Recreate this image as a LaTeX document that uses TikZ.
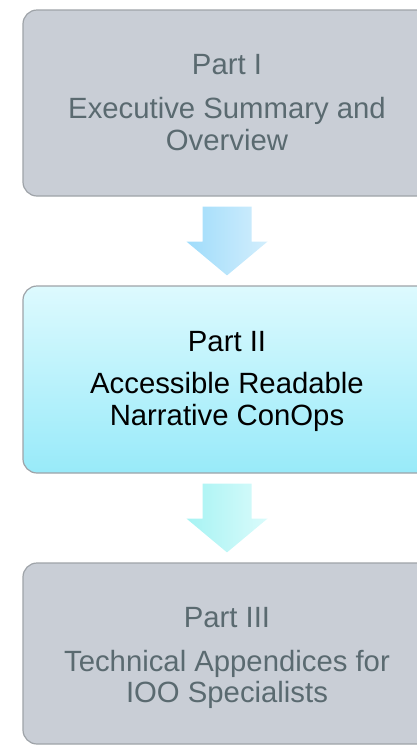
\documentclass[tikz,border=0pt]{standalone}
\usepackage{fontspec}
\setmainfont{Liberation Sans}
\usetikzlibrary{calc,shadows}
\definecolor{boxgray}{HTML}{C9CED6}
\definecolor{boxedge}{HTML}{9EA3A8}
\definecolor{txtgray}{HTML}{5A6A70}
\definecolor{cyantop}{HTML}{DDFAFE}
\definecolor{cyanbot}{HTML}{98EAF9}
\definecolor{arrAl}{HTML}{9FDCFB}
\definecolor{arrAr}{HTML}{D3EEFC}
\definecolor{arrBl}{HTML}{A6F3F3}
\definecolor{arrBr}{HTML}{DAFBFB}
\tikzset{
  partbox/.style={draw=boxedge, line width=1.2pt, rounded corners=14pt,
    minimum width=408pt, inner sep=0pt},
  graybox/.style={partbox, fill=boxgray},
  cyanbox/.style={partbox, top color=cyantop, bottom color=cyanbot},
  lbl/.style={anchor=base, inner sep=0pt, font=\fontsize{29.3}{32}\selectfont},
}
\begin{document}
\begin{tikzpicture}[x=1pt,y=-1pt]
\useasboundingbox (0,0) rectangle (417,745);
\node[graybox, minimum height=186pt] (b1) at (227,103) {};
\node[cyanbox, minimum height=187pt] (b2) at (227,379.5) {};
\node[graybox, minimum height=181pt] (b3) at (227,653.5) {};
% texts
\node[lbl, text=txtgray] (t1a) at (227,74) {Part I};
\node[lbl, text=txtgray] (t1b) at (227,118) {Executive Summary and};
\node[lbl, text=txtgray] (t1c) at (227,150) {Overview};
\node[lbl, text=black] (t2a) at (227,351) {Part II};
\node[lbl, text=black] (t2b) at (227,393) {Accessible Readable};
\node[lbl, text=black] (t2c) at (227,425) {Narrative ConOps};
\node[lbl, text=txtgray] (t3a) at (227,627) {Part III};
\node[lbl, text=txtgray] (t3b) at (227,671) {Technical Appendices for};
\node[lbl, text=txtgray] (t3c) at (227,702) {IOO Specialists};
% arrows
\newcommand{\bigdownarrow}[4]{%
  \path[left color=#3, right color=#4]
    ($(#1.south)+(-24.5,10)$) -- ($(#1.south)+(24.5,10)$) --
    ($(#1.south)+(24.5,45)$) -- ($(#1.south)+(40.5,45)$) --
    ($(#2.north)+(0,-10)$) --
    ($(#1.south)+(-40.5,45)$) -- ($(#1.south)+(-24.5,45)$) -- cycle;}
\bigdownarrow{b1}{b2}{arrAl}{arrAr}
\bigdownarrow{b2}{b3}{arrBl}{arrBr}
\end{tikzpicture}
\end{document}
